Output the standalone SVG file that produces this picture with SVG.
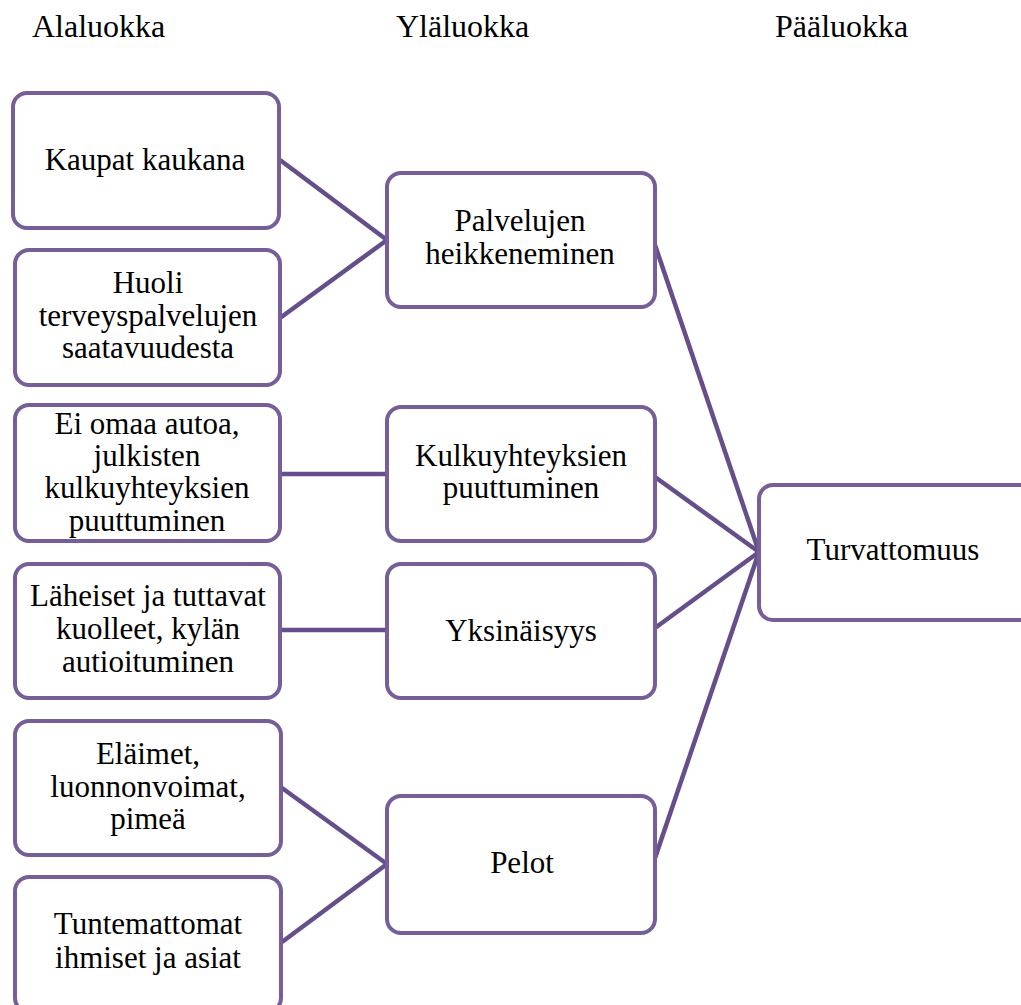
<svg xmlns="http://www.w3.org/2000/svg" width="1021" height="1005" viewBox="0 0 1021 1005">
<style>
.box{fill:#ffffff;stroke:#765e99;stroke-width:4}
text{font-family:'Liberation Serif','Times New Roman',serif;fill:#000}
.t{font-size:31px;text-anchor:middle}
.h{font-size:32px}
.c{stroke:#654e89;stroke-width:4.5;fill:none;stroke-linecap:butt}
</style>
<rect width="1021" height="1005" fill="#ffffff"/>
<g id="headers">
<text class="h" x="32" y="37">Alaluokka</text>
<text class="h" x="396" y="37">Yläluokka</text>
<text class="h" x="775" y="37">Pääluokka</text>
</g>
<g id="connectors">
<line class="c" x1="280" y1="160" x2="387" y2="240"/>
<line class="c" x1="280" y1="318" x2="387" y2="240"/>
<line class="c" x1="281" y1="474" x2="387" y2="474"/>
<line class="c" x1="281" y1="630" x2="387" y2="630"/>
<line class="c" x1="282" y1="788" x2="387" y2="864"/>
<line class="c" x1="282" y1="942" x2="387" y2="864"/>
<line class="c" x1="655" y1="245" x2="759" y2="552"/>
<line class="c" x1="655" y1="477" x2="759" y2="552"/>
<line class="c" x1="655" y1="628" x2="759" y2="552"/>
<line class="c" x1="655" y1="858" x2="759" y2="552"/>
</g>
<g id="n1"><rect class="box" x="13" y="93" width="266" height="135" rx="14"/><text class="t" x="145" y="170">Kaupat kaukana</text></g>
<g id="n2"><rect class="box" x="15" y="250" width="265" height="135" rx="14"/><text class="t" x="148" y="293">Huoli</text><text class="t" x="148" y="326">terveyspalvelujen</text><text class="t" x="148" y="358">saatavuudesta</text></g>
<g id="n3"><rect class="box" x="15" y="405" width="265" height="136" rx="14"/><text class="t" x="147" y="434">Ei omaa autoa,</text><text class="t" x="147" y="466">julkisten</text><text class="t" x="147" y="498">kulkuyhteyksien</text><text class="t" x="147" y="531">puuttuminen</text></g>
<g id="n4"><rect class="box" x="15" y="564" width="265" height="134" rx="14"/><text class="t" x="148" y="606">Läheiset ja tuttavat</text><text class="t" x="148" y="639">kuolleet, kylän</text><text class="t" x="148" y="672">autioituminen</text></g>
<g id="n5"><rect class="box" x="15" y="721" width="266" height="134" rx="14"/><text class="t" x="148" y="764">Eläimet,</text><text class="t" x="148" y="797">luonnonvoimat,</text><text class="t" x="148" y="829">pimeä</text></g>
<g id="n6"><rect class="box" x="15" y="877" width="266" height="135" rx="14"/><text class="t" x="148" y="934">Tuntemattomat</text><text class="t" x="148" y="968">ihmiset ja asiat</text></g>
<g id="m1"><rect class="box" x="387" y="173" width="268" height="134" rx="14"/><text class="t" x="520" y="231">Palvelujen</text><text class="t" x="520" y="264">heikkeneminen</text></g>
<g id="m2"><rect class="box" x="387" y="407" width="268" height="134" rx="14"/><text class="t" x="521" y="466">Kulkuyhteyksien</text><text class="t" x="521" y="498">puuttuminen</text></g>
<g id="m3"><rect class="box" x="387" y="564" width="268" height="134" rx="14"/><text class="t" x="521" y="641">Yksinäisyys</text></g>
<g id="m4"><rect class="box" x="387" y="796" width="268" height="137" rx="14"/><text class="t" x="522" y="873">Pelot</text></g>
<g id="top"><rect class="box" x="759" y="485" width="275" height="135" rx="14"/><text class="t" x="893" y="560">Turvattomuus</text></g>
</svg>
